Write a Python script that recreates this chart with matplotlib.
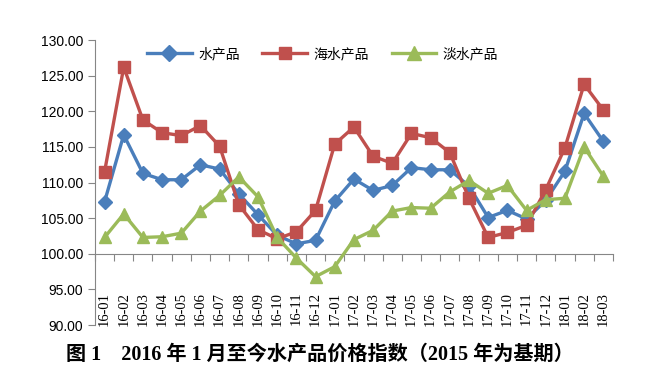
import matplotlib
matplotlib.use("Agg")
import matplotlib.pyplot as plt

plt.rcParams['font.family'] = ['Liberation Sans', 'Noto Sans CJK SC']

months = ["16-01", "16-02", "16-03", "16-04", "16-05", "16-06", "16-07", "16-08", "16-09",
          "16-10", "16-11", "16-12", "17-01", "17-02", "17-03", "17-04", "17-05", "17-06",
          "17-07", "17-08", "17-09", "17-10", "17-11", "17-12", "18-01", "18-02", "18-03"]

aquatic = [107.3, 116.7, 111.3, 110.4, 110.4, 112.5, 111.9, 108.4, 105.5, 102.6, 101.4, 101.9,
           107.4, 110.5, 108.9, 109.6, 112.1, 111.8, 111.8, 109.5, 105.1, 106.1, 104.9, 107.5,
           111.6, 119.7, 115.8]
marine = [111.5, 126.2, 118.8, 117.0, 116.6, 118.0, 115.1, 106.9, 103.4, 102.1, 103.1, 106.1,
          115.4, 117.8, 113.7, 112.7, 116.9, 116.3, 114.2, 107.8, 102.3, 103.0, 104.0, 109.0,
          114.9, 123.8, 120.2]
freshwater = [102.3, 105.6, 102.3, 102.4, 102.9, 106.0, 108.2, 110.8, 108.0, 102.3, 99.4, 96.8,
              98.2, 102.0, 103.3, 106.0, 106.5, 106.4, 108.7, 110.3, 108.5, 109.6, 106.1, 107.6,
              107.8, 115.0, 110.9]

yticks = [90, 95, 100, 105, 110, 115, 120, 125, 130]

fig = plt.figure(figsize=(6.64, 3.82), dpi=100)
ax = fig.add_axes([0.143, 0.149, 0.78, 0.746])

x = list(range(len(months)))
ax.plot(x, aquatic, color="#4A7EBB", lw=2.4, marker="D", ms=7, label="水产品")
ax.plot(x, marine, color="#C0504D", lw=2.4, marker="s", ms=8, label="海水产品")
ax.plot(x, freshwater, color="#9BBB59", lw=2.4, marker="^", ms=9, label="淡水产品")

ax.set_xlim(-0.5, len(months) - 0.5)
ax.set_ylim(90, 130)
ax.set_yticks(yticks)
ax.set_yticklabels([f"{v:.2f}" for v in yticks], fontsize=10)
ax.set_xticks(x)
ax.set_xticklabels(months, rotation=90, fontsize=10.5, family="Liberation Serif")
# labels sit low inside the plot, just above the 90 line
ax.tick_params(axis="x", length=0, pad=-24)
ax.tick_params(axis="y", length=5, direction="out", color="#868686")

for s in ["top", "right", "bottom"]:
    ax.spines[s].set_visible(False)
ax.spines["left"].set_color("#868686")

# category axis crosses at 100
sec = ax.secondary_xaxis((100 - 90) / 40)
sec.set_xticks([i - 0.5 for i in range(len(months) + 1)])
sec.set_xticklabels([])
sec.tick_params(length=5, direction="out", color="#868686")
sec.spines["bottom"].set_color("#868686")

ax.legend(loc="upper center", bbox_to_anchor=(0.44, 1.02), ncol=3, frameon=False,
          fontsize=10, handlelength=3.2, columnspacing=1.6, handletextpad=0.5,
          markerscale=1.1)

fig.text(0.482, 0.071, "图 1　2016 年 1 月至今水产品价格指数（2015 年为基期）",
         ha="center", va="center", fontsize=14.5, fontweight="bold",
         family=["Liberation Serif", "Noto Sans CJK SC"])

fig.savefig("out.png", dpi=100)
